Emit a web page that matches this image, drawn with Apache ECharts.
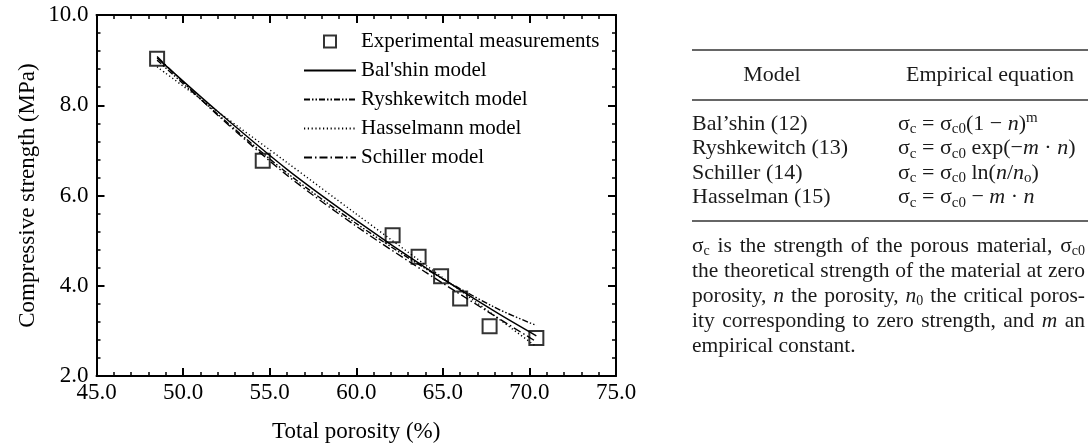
<!DOCTYPE html>
<html><head><meta charset="utf-8">
<script src="https://cdn.jsdelivr.net/npm/echarts@6/dist/echarts.min.js"></script>
<style>html,body{margin:0;padding:0;background:#fff}#c{width:1088px;height:448px}</style>
</head><body><div id="c"></div>
<script>
// ---- data ----
const porosity = [48.5, 54.6, 62.1, 63.6, 64.9, 66.0, 67.7, 70.4];
const strength = [9.03, 6.77, 5.12, 4.64, 4.21, 3.72, 3.10, 2.84];
const modelX      = [48.5, 52, 56, 60, 64, 68, 70.4];
const balshin     = [9.05, 7.86, 6.58, 5.45, 4.40, 3.43, 2.89];
const ryshkewitch = [9.00, 7.80, 6.50, 5.38, 4.38, 3.52, 3.12];
const hasselmann  = [8.85, 7.86, 6.73, 5.59, 4.46, 3.33, 2.65];
const schiller    = [9.08, 7.78, 6.45, 5.32, 4.30, 3.33, 2.76];
const seriesNames = ['Experimental measurements', "Bal'shin model", 'Ryshkewitch model', 'Hasselmann model', 'Schiller model'];
const xTitle = 'Total porosity (%)';
const yTitle = 'Compressive strength (MPa)';
const tableHeader = ['Model', 'Empirical equation'];
const tableModels = ['Bal\u2019shin (12)', 'Ryshkewitch (13)', 'Schiller (14)', 'Hasselman (15)'];
// equations as [text, kind] runs; kinds: r roman, i italic, sub, sup
const tableEquations = [
  [['σ','r'],['c','sub'],[' = σ','r'],['c0','sub'],['(1 − ','r'],['n','i'],[')','r'],['m','sup']],
  [['σ','r'],['c','sub'],[' = σ','r'],['c0','sub'],[' exp(−','r'],['m','i'],[' · ','r'],['n','i'],[')','r']],
  [['σ','r'],['c','sub'],[' = σ','r'],['c0','sub'],[' ln(','r'],['n','i'],['/','r'],['n','i'],['o','sub'],[')','r']],
  [['σ','r'],['c','sub'],[' = σ','r'],['c0','sub'],[' − ','r'],['m','i'],[' · ','r'],['n','i']]
];
const footnote = [
  [['σ','r'],['c','sub'],[' is the strength of the porous material, σ','r'],['c0','sub']],
  [['the theoretical strength of the material at zero','r']],
  [['porosity, ','r'],['n','i'],[' the porosity, ','r'],['n','i'],['0','sub'],[' the critical poros-','r']],
  [['ity corresponding to zero strength, and ','r'],['m','i'],[' an','r']],
  [['empirical constant.','r']]
];

const FF = '"Liberation Serif", "Times New Roman", serif';
const TXT = '#1a1a1a';
const mctx = document.createElement('canvas').getContext('2d');
function kindFont(k, base) {
  const size = (k === 'sub' || k === 'sup') ? Math.round(base * 0.66) : base;
  const style = k === 'i' ? 'italic' : 'normal';
  return {size, style, font: style + ' ' + size + 'px ' + FF};
}
function wid(t, k, base) { mctx.font = kindFont(k, base).font; return mctx.measureText(t).width; }
function mk(x, y, t, k, base, align) {
  const f = kindFont(k, base);
  const dy = k === 'sub' ? base * 0.24 : (k === 'sup' ? -base * 0.29 : 0);
  return {type: 'text', x: x, y: y + dy, silent: true,
    style: {text: t, font: f.font, fontSize: f.size, fontFamily: FF, fontStyle: f.style, fill: TXT,
      align: align || 'left', textAlign: align || 'left', verticalAlign: 'middle', textVerticalAlign: 'middle'}};
}
function layoutLine(x, y, parts, base, width) {
  const segs = [];
  parts.forEach(([t, k]) => {
    t.split(/( )/).forEach(p => { if (p === ' ') segs.push({space: true}); else if (p) segs.push({t: p, k: k}); });
  });
  const sw = wid(' ', 'r', base);
  let nat = 0, ns = 0;
  segs.forEach(s => { if (s.space) { nat += sw; ns++; } else nat += wid(s.t, s.k, base); });
  const extra = (width && ns) ? (width - nat) / ns : 0;
  let cx = x; const els = [];
  segs.forEach(s => { if (s.space) cx += sw + extra; else { els.push(mk(cx, y, s.t, s.k, base)); cx += wid(s.t, s.k, base); } });
  return els;
}

// table layout
const TL = 692, TR = 1088, EQX = 898, TS = 22, PS = 21.5;
const rule1 = 50, headY = 75, rule2 = 100, rowY0 = 124, rowStep = 24.5, rule3 = 221, paraY0 = 246, paraStep = 25, paraW = 393;
const graphics = [];
[rule1, rule2, rule3].forEach(y => graphics.push({type: 'line', silent: true, shape: {x1: TL, y1: y, x2: TR, y2: y}, style: {stroke: '#333', lineWidth: 1.6}}));
graphics.push(mk(772, headY, tableHeader[0], 'r', TS, 'center'));
graphics.push(mk(990, headY, tableHeader[1], 'r', TS, 'center'));
tableModels.forEach((m, i) => {
  const y = rowY0 + i * rowStep;
  graphics.push(mk(TL, y, m, 'r', TS));
  layoutLine(EQX, y, tableEquations[i], TS).forEach(e => graphics.push(e));
});
footnote.forEach((ln, i) => {
  layoutLine(TL, paraY0 + i * paraStep, ln, PS, i < footnote.length - 1 ? paraW : 0).forEach(e => graphics.push(e));
});

const axisCommon = {
  type: 'value',
  axisLine: {show: true, lineStyle: {color: '#000', width: 2}},
  axisTick: {show: true, inside: true, length: 8, lineStyle: {color: '#000', width: 2}},
  minorTick: {show: true, splitNumber: 5, length: 4, lineStyle: {color: '#000', width: 1.5}},
  splitLine: {show: false}, minorSplitLine: {show: false}
};
const labelStyle = {color: '#000', fontSize: 23, fontFamily: FF, formatter: v => v.toFixed(1)};
const nameStyle = {color: '#000', fontSize: 23, fontFamily: FF};
function lineSeries(name, ys, type) {
  return {type: 'line', name: name, data: modelX.map((x, i) => [x, ys[i]]), symbol: 'none', smooth: 0.3,
    lineStyle: {color: '#000', width: 1.4, type: type}, itemStyle: {color: '#000'}, z: 2};
}
const hiddenSym = {opacity: 0};
const chart = echarts.init(document.getElementById('c'), null, {renderer: 'canvas'});
chart.setOption({
  animation: false,
  backgroundColor: '#fff',
  textStyle: {fontFamily: FF},
  grid: {left: 96.5, right: 472, top: 15, bottom: 72, containLabel: false, outerBoundsMode: 'none'},
  xAxis: [
    Object.assign({}, axisCommon, {position: 'bottom', min: 45, max: 75, interval: 5,
      axisLabel: Object.assign({margin: 5}, labelStyle),
      name: xTitle, nameLocation: 'middle', nameGap: 44, nameTextStyle: nameStyle}),
    Object.assign({}, axisCommon, {position: 'top', min: 45, max: 75, interval: 5, axisLabel: {show: false}})
  ],
  yAxis: [
    Object.assign({}, axisCommon, {position: 'left', min: 2, max: 10, interval: 2,
      axisLabel: Object.assign({margin: 8}, labelStyle),
      name: yTitle, nameLocation: 'middle', nameGap: 57, nameTextStyle: nameStyle}),
    Object.assign({}, axisCommon, {position: 'right', min: 2, max: 10, interval: 2, axisLabel: {show: false}})
  ],
  legend: {
    orient: 'vertical', left: 303, top: 31, padding: 0, itemGap: 8, itemWidth: 52, itemHeight: 12,
    selectedMode: false,
    textStyle: {color: '#000', fontSize: 21, fontFamily: FF},
    data: [
      {name: seriesNames[0], icon: 'path://M0 0H10V10H0Z', itemStyle: {color: 'rgba(0,0,0,0)', borderColor: '#000', borderWidth: 2}},
      {name: seriesNames[1], itemStyle: hiddenSym},
      {name: seriesNames[2], itemStyle: hiddenSym},
      {name: seriesNames[3], itemStyle: hiddenSym},
      {name: seriesNames[4], itemStyle: hiddenSym}
    ]
  },
  series: [
    {type: 'scatter', name: seriesNames[0], data: porosity.map((x, i) => [x, strength[i]]), symbol: 'rect', symbolSize: 14,
      itemStyle: {color: 'rgba(0,0,0,0)', borderColor: '#000', borderWidth: 2}, z: 3},
    lineSeries(seriesNames[1], balshin, 'solid'),
    lineSeries(seriesNames[2], ryshkewitch, [6, 2, 1.5, 2, 1.5, 2]),
    lineSeries(seriesNames[3], hasselmann, [1.2, 2.6]),
    lineSeries(seriesNames[4], schiller, [8, 3, 1.5, 3])
  ],
  graphic: graphics
});
</script></body></html>
